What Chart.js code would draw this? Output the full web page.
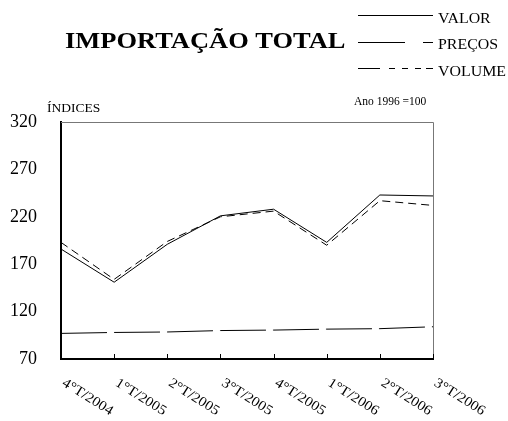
<!DOCTYPE html>
<html>
<head>
<meta charset="utf-8">
<script src="https://cdn.jsdelivr.net/npm/chart.js@4/dist/chart.umd.min.js"></script>
<style>
  html, body { margin: 0; padding: 0; background: #fff; }
  #box { width: 508px; height: 421px; position: relative; }
</style>
</head>
<body>
<div id="box"><canvas id="grafico" width="508" height="421"></canvas></div>
<script>
// --- DADOS ---
const trimestres = ['4°T/2004', '1°T/2005', '2°T/2005', '3°T/2005', '4°T/2005', '1°T/2006', '2°T/2006', '3°T/2006'];
const valor = [186, 151, 191, 221, 228, 193, 243, 242];
const precos = [97, 98, 98.5, 100, 100.5, 101.5, 102, 104];
const volume = [193, 154, 194, 220, 226, 190, 237, 232];
const ticksY = [70, 120, 170, 220, 270, 320];

const serif = '"Liberation Serif", "Times New Roman", serif';

// texto com leve esticamento horizontal (como no original)
function texto(ctx, str, x, y, sx) {
    ctx.save();
    ctx.translate(x, y);
    ctx.scale(sx, 1);
    ctx.fillText(str, 0, 0);
    ctx.restore();
}

// Título, legenda, textos e rótulos do eixo X desenhados à mão
const extras = {
    id: 'extras',
    afterDraw(chart) {
        const ctx = chart.ctx;
        const area = chart.chartArea;
        const x = chart.scales.x;
        ctx.save();

        // moldura superior e direita (cinza)
        ctx.strokeStyle = '#777';
        ctx.lineWidth = 1;
        ctx.beginPath();
        ctx.moveTo(area.left, area.top + 0.5);
        ctx.lineTo(area.right + 0.5, area.top + 0.5);
        ctx.lineTo(area.right + 0.5, area.bottom);
        ctx.stroke();

        // marcas do eixo X, para dentro
        ctx.strokeStyle = '#000';
        x.ticks.forEach((t, i) => {
            const px = Math.round(x.getPixelForTick(i)) + 0.5;
            ctx.beginPath();
            ctx.moveTo(px, area.bottom);
            ctx.lineTo(px, area.bottom - 5);
            ctx.stroke();
        });

        // rótulos inclinados
        ctx.fillStyle = '#000';
        ctx.font = '14px ' + serif;
        ctx.textAlign = 'left';
        ctx.textBaseline = 'top';
        trimestres.forEach((lab, i) => {
            const px = x.getPixelForTick(i);
            ctx.save();
            ctx.translate(px + 6, area.bottom + 17);
            ctx.rotate(32 * Math.PI / 180);
            ctx.scale(1.08, 1);
            ctx.fillText(lab, 0, 0);
            ctx.restore();
        });

        // título
        ctx.textBaseline = 'alphabetic';
        ctx.font = 'bold 23px ' + serif;
        texto(ctx, 'IMPORTAÇÃO TOTAL', 65, 48, 1.15);

        // legenda
        ctx.font = '15px ' + serif;
        chart.data.datasets.forEach((ds, i) => {
            const ly = [15, 42, 68][i] + 0.5;
            ctx.strokeStyle = '#000';
            ctx.lineWidth = 1;
            ctx.setLineDash(ds.legendDash || []);
            ctx.beginPath();
            ctx.moveTo(358, ly);
            ctx.lineTo(433, ly);
            ctx.stroke();
            ctx.setLineDash([]);
            texto(ctx, ds.label, 438, [23, 49, 76][i], 1.06);
        });

        ctx.font = '13.5px ' + serif;
        texto(ctx, 'ÍNDICES', 47, 112, 1.0);
        ctx.font = '11.5px ' + serif;
        texto(ctx, 'Ano 1996 =100', 354, 105, 1.0);
        ctx.restore();
    }
};

new Chart(document.getElementById('grafico'), {
    type: 'line',
    data: {
        labels: trimestres,
        datasets: [{
            label: 'VALOR',
            data: valor,
            borderColor: '#000',
            borderWidth: 1,
            legendDash: []
        }, {
            label: 'PREÇOS',
            data: precos,
            borderColor: '#000',
            borderWidth: 1,
            borderDash: [46, 7],
            legendDash: [47, 18, 10]
        }, {
            label: 'VOLUME',
            data: volume,
            borderColor: '#000',
            borderWidth: 1,
            borderDash: [8, 5],
            legendDash: [22, 9, 6, 7, 6, 7, 6, 5, 11]
        }]
    },
    options: {
        responsive: false,
        animation: false,
        devicePixelRatio: 1,
        layout: { padding: { left: 0, right: 75, top: 122, bottom: 0 } },
        elements: { point: { radius: 0 }, line: { tension: 0 } },
        plugins: {
            legend: { display: false },
            tooltip: { enabled: false }
        },
        scales: {
            x: {
                offset: false,
                grid: { display: false },
                border: { color: '#000', width: 2 },
                ticks: { display: false },
                afterFit: (s) => { s.height = 62; }
            },
            y: {
                min: 70,
                max: 320,
                afterBuildTicks: (s) => { s.ticks = ticksY.map(v => ({ value: v })); },
                grid: { display: false, drawTicks: false },
                border: { color: '#000', width: 2 },
                ticks: {
                    color: '#000',
                    padding: 24,
                    font: { family: serif, size: 18 }
                },
                afterFit: (s) => { s.width = 61; }
            }
        }
    },
    plugins: [extras]
});
</script>
</body>
</html>
